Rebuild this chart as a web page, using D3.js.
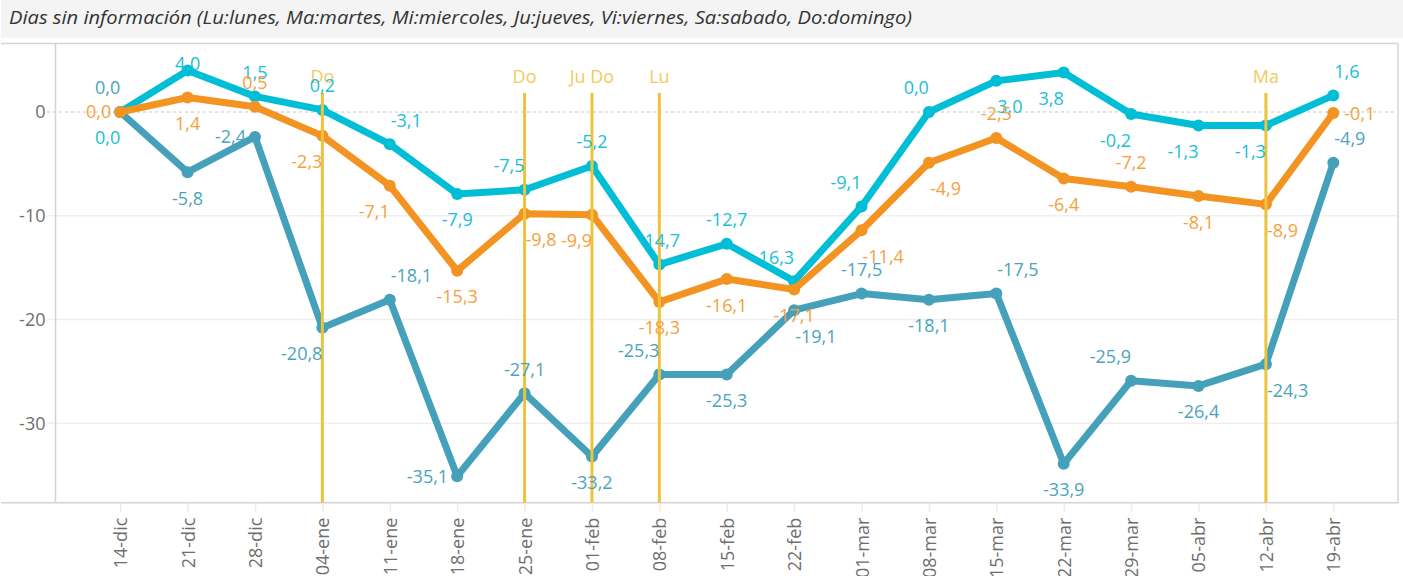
<!DOCTYPE html>
<html lang="es">
<head>
    <meta charset="UTF-8">
    <title>Dias sin informacion</title>
    <script src="https://cdn.jsdelivr.net/npm/d3@7"></script>
    <style>
        body { margin: 0; background: #fff; }
        text { font-family: "Open Sans", sans-serif; }
        .axis text { fill: #6e6e6e; font-size: 18px; }
    </style>
</head>
<body>
<script>
    // datos
    let semanas = ["14-dic", "21-dic", "28-dic", "04-ene", "11-ene", "18-ene", "25-ene", "01-feb", "08-feb",
        "15-feb", "22-feb", "01-mar", "08-mar", "15-mar", "22-mar", "29-mar", "05-abr", "12-abr", "19-abr"];
    let serieCian = [0.0, 4.0, 1.5, 0.2, -3.1, -7.9, -7.5, -5.2, -14.7, -12.7, -16.3, -9.1, 0.0, 3.0, 3.8, -0.2, -1.3, -1.3, 1.6];
    let serieNaranja = [0.0, 1.4, 0.5, -2.3, -7.1, -15.3, -9.8, -9.9, -18.3, -16.1, -17.1, -11.4, -4.9, -2.5, -6.4, -7.2, -8.1, -8.9, -0.1];
    let serieAzul = [0.0, -5.8, -2.4, -20.8, -18.1, -35.1, -27.1, -33.2, -25.3, -25.3, -19.1, -17.5, -18.1, -17.5, -33.9, -25.9, -26.4, -24.3, -4.9];
    let yTicks = [0, -10, -20, -30];
    let marcaSemanas = ["04-ene", "25-ene", "01-feb", "08-feb", "12-abr"];
    let marcaTextos = ["Do", "Do", "Ju Do", "Lu", "Ma"];
    let titulo = "Dias sin información (Lu:lunes, Ma:martes, Mi:miercoles, Ju:jueves, Vi:viernes, Sa:sabado, Do:domingo)";

    // donde va cada etiqueta respecto al punto
    let posCian = ["bl", "t", "t", "t", "tr", "b", "tl", "t", "t", "t", "tl", "tl", "tl", "br", "bl", "bl", "bl", "bl", "tr"];
    let posNaranja = ["l", "b", "t", "bl", "bl", "b", "br", "bl", "b", "b", "b", "br", "br", "t", "b", "t", "b", "br", "r"];
    let posAzul = ["tl", "b", "l", "bl", "tr", "l", "t", "b", "tl", "b", "br", "t", "b", "tr", "b", "tl", "b", "br", "tr"];

    let width = 1403;
    let height = 576;
    let pLeft = 55.5, pRight = 1398, pTop = 43.5, pBottom = 502.7;

    let svg = d3.select("body")
        .append("svg")
        .attr("width", width)
        .attr("height", height);

    // cabecera gris
    svg.append("rect")
        .attr("x", 1).attr("y", 0)
        .attr("width", width - 1).attr("height", 38)
        .attr("fill", "#f4f4f4");

    svg.append("text")
        .text(titulo)
        .attr("x", 9)
        .attr("y", 24)
        .attr("font-size", "18px")
        .attr("font-style", "italic")
        .attr("fill", "#333")
        .attr("textLength", 903)
        .attr("lengthAdjust", "spacingAndGlyphs");

    let xScale = d3.scalePoint()
        .domain(semanas)
        .range([pLeft, pRight])
        .padding(0.96);

    let yScale = d3.scaleLinear()
        .domain([-37.65, 6.6])
        .range([pBottom, pTop]);

    // rejilla
    svg.append("g")
        .selectAll("line")
        .data(yTicks.filter(d => d !== 0))
        .join("line")
        .attr("x1", 47).attr("x2", pRight)
        .attr("y1", d => yScale(d)).attr("y2", d => yScale(d))
        .attr("stroke", "#efefef")
        .attr("stroke-width", 1.5);

    svg.append("line")
        .attr("x1", 47).attr("x2", pRight)
        .attr("y1", yScale(0)).attr("y2", yScale(0))
        .attr("stroke", "#c4c4c4")
        .attr("stroke-width", 1.2)
        .attr("stroke-dasharray", "3,3");

    // bordes
    svg.append("line").attr("x1", 1).attr("x2", pRight).attr("y1", pTop).attr("y2", pTop)
        .attr("stroke", "#d4d4d4").attr("stroke-width", 1.5);
    svg.append("line").attr("x1", 1).attr("x2", pRight).attr("y1", pBottom).attr("y2", pBottom)
        .attr("stroke", "#d4d4d4").attr("stroke-width", 1.5);
    svg.append("line").attr("x1", pLeft).attr("x2", pLeft).attr("y1", pTop).attr("y2", pBottom)
        .attr("stroke", "#d4d4d4").attr("stroke-width", 1.5);
    svg.append("line").attr("x1", pRight).attr("x2", pRight).attr("y1", pTop).attr("y2", pBottom)
        .attr("stroke", "#d4d4d4").attr("stroke-width", 1.5);

    // ejes
    let yAxis = d3.axisLeft(yScale)
        .tickValues(yTicks)
        .tickSize(0)
        .tickPadding(10)
        .tickFormat(d => String(d));

    svg.append("g")
        .attr("class", "axis")
        .attr("transform", "translate(" + pLeft + ",0)")
        .call(yAxis)
        .call(g => g.select(".domain").remove());

    let xAxis = d3.axisBottom(xScale)
        .tickSize(9)
        .tickPadding(6);

    svg.append("g")
        .attr("class", "axis")
        .attr("transform", "translate(0," + pBottom + ")")
        .call(xAxis)
        .call(g => g.select(".domain").remove())
        .call(g => g.selectAll(".tick line").attr("stroke", "#ececec").attr("stroke-width", 1.5))
        .call(g => g.selectAll(".tick text")
            .attr("fill", "#777")
            .attr("text-anchor", "end")
            .attr("transform", "rotate(-90)")
            .attr("x", -15)
            .attr("y", 0)
            .attr("dy", "0.36em"));

    // lineas
    let series = [
        {valores: serieAzul, pos: posAzul, color: "#45a0ba", texto: "#4aa4bd"},
        {valores: serieCian, pos: posCian, color: "#00bed6", texto: "#18c0d8"},
        {valores: serieNaranja, pos: posNaranja, color: "#f39322", texto: "#f5a13c"}
    ];

    let line = d3.line()
        .x((d, i) => xScale(semanas[i]))
        .y(d => yScale(d));

    series.forEach(function (s) {
        svg.append("path")
            .attr("d", line(s.valores))
            .attr("fill", "none")
            .attr("stroke", s.color)
            .attr("stroke-width", 7)
            .attr("stroke-linejoin", "round");

        svg.append("g")
            .selectAll("circle")
            .data(s.valores)
            .join("circle")
            .attr("cx", (d, i) => xScale(semanas[i]))
            .attr("cy", d => yScale(d))
            .attr("r", 6)
            .attr("fill", s.color);
    });

    // lineas de marca amarillas
    svg.append("g")
        .selectAll("line")
        .data(marcaSemanas)
        .join("line")
        .attr("x1", d => xScale(d)).attr("x2", d => xScale(d))
        .attr("y1", 93).attr("y2", pBottom)
        .attr("stroke", "#edc33e")
        .attr("stroke-width", 3);

    svg.append("g")
        .selectAll("text")
        .data(marcaSemanas)
        .join("text")
        .text((d, i) => marcaTextos[i])
        .attr("x", d => xScale(d))
        .attr("y", 77)
        .attr("dy", "0.36em")
        .attr("text-anchor", "middle")
        .attr("font-size", "18px")
        .attr("fill", "#f1cb5e");

    // etiquetas
    let fmt = d3.format(".1f");
    function etiqueta(v) {
        return fmt(v).replace(".", ",").replace("−", "-");
    }

    series.forEach(function (s) {
        svg.append("g")
            .selectAll("text")
            .data(s.valores)
            .join("text")
            .text(d => etiqueta(d))
            .attr("x", function (d, i) {
                let p = s.pos[i];
                let x = xScale(semanas[i]);
                if (p === "l") return x - 9;
                if (p === "r") return x + 11;
                if (p === "tr" || p === "br") return x + 1;
                return x;
            })
            .attr("y", function (d, i) {
                let p = s.pos[i];
                let y = yScale(d);
                if (p[0] === "t") return Math.max(y - 24, 64);
                if (p[0] === "b") return y + 26;
                return y;
            })
            .attr("dy", "0.36em")
            .attr("text-anchor", function (d, i) {
                let p = s.pos[i];
                if (p === "l" || p === "tl" || p === "bl") return "end";
                if (p === "r" || p === "tr" || p === "br") return "start";
                return "middle";
            })
            .attr("font-size", "18px")
            .attr("fill", s.texto);
    });
</script>
</body>
</html>
